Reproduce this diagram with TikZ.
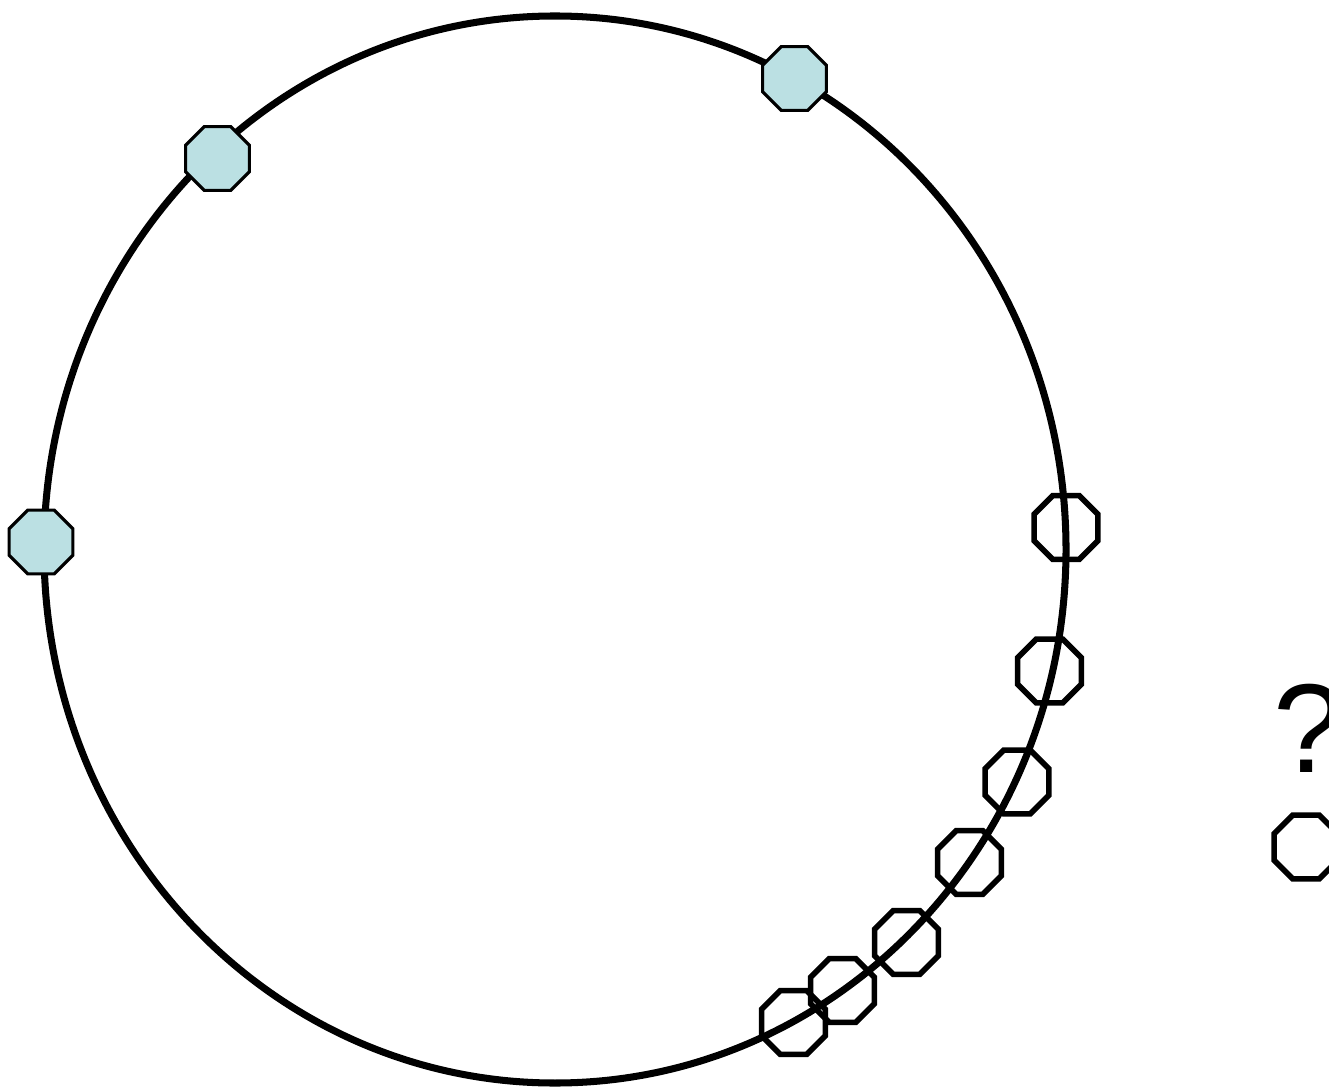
\documentclass[tikz,border=0pt]{standalone}
\usepackage{fontspec}
\setmainfont{Liberation Sans}
\usetikzlibrary{shapes.geometric}
\definecolor{seed}{RGB}{187,224,227}

\begin{document}
\begin{tikzpicture}[
    oct/.style={regular polygon,regular polygon sides=8,inner sep=0pt,minimum size=0.69cm},
    full/.style={oct,draw,fill=seed,line width=0.9pt},
    empty/.style={oct,draw,line width=1.6pt}]
    \useasboundingbox (0,0) rectangle (13.29,10.88);
    \draw[line width=2pt] (5.55,5.385) ellipse (5.11 and 5.335);
    \node[full] (A) at (0.41,5.46) {};
    \node[full] (B) at (2.175,9.295) {};
    \node[full] (C) at (7.945,10.095) {};
    \foreach \name/\pos in {a/{10.66,5.605},b/{10.495,4.17},c/{10.17,3.06},d/{9.695,2.255},
      e/{9.065,1.455},f/{8.425,0.975},g/{7.935,0.655}}
      \node[empty] (\name) at (\pos) {};
    \node[empty] (X) at (13.06,2.41) {};
    \node[anchor=base west,inner sep=0pt,font=\fontsize{36}{42}\selectfont] (Q) at (12.73,3.16) {?};
  \end{tikzpicture}
\end{document}
